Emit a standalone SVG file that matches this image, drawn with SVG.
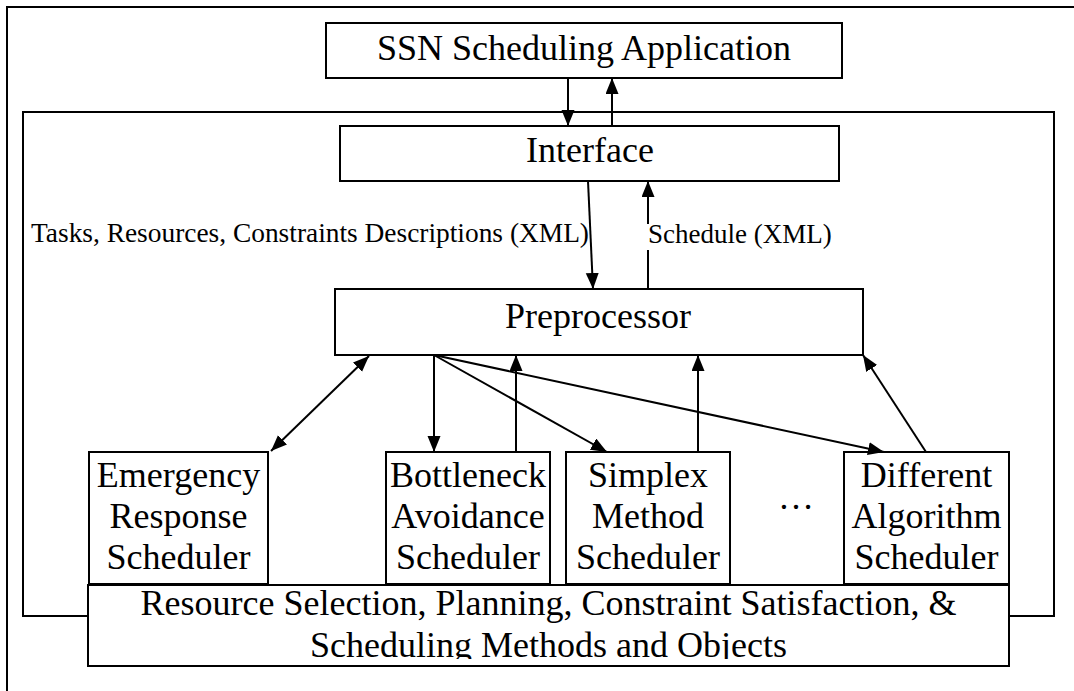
<svg xmlns="http://www.w3.org/2000/svg" width="1074" height="691" viewBox="0 0 1074 691">
<style>
.box{fill:#fff;stroke:#000;stroke-width:2}
.frame{fill:none;stroke:#000;stroke-width:2}
.t{font-family:"Liberation Serif","Times New Roman",serif;font-size:36px;fill:#000;text-anchor:middle}
.lbl{font-family:"Liberation Serif","Times New Roman",serif;font-size:27px;fill:#000}
.c{fill:none;stroke:#000;stroke-width:2}
.a{marker-end:url(#ah)}
</style>
<defs>
<marker id="ah" markerUnits="userSpaceOnUse" markerWidth="17" markerHeight="14" refX="16" refY="6.5" orient="auto-start-reverse" viewBox="0 0 17 14">
<path d="M0,0 L16,6.5 L0,13 z" fill="#000"/>
</marker>
<clipPath id="rclip"><rect x="88" y="585" width="921" height="74"/></clipPath>
</defs>
<rect width="1074" height="691" fill="#fff"/>
<g id="outer-border">
<path class="frame" d="M7,700 L7,7 L1080,7"/>
</g>
<g id="system-frame">
<rect class="frame" x="23" y="112" width="1031" height="504"/>
</g>
<g id="ssn-app">
<rect class="box" x="326" y="23" width="516" height="55"/>
<text class="t" x="584" y="60">SSN Scheduling Application</text>
</g>
<g id="interface">
<rect class="box" x="340" y="126" width="499" height="55"/>
<text class="t" x="590" y="162">Interface</text>
</g>
<g id="preprocessor">
<rect class="box" x="335" y="289" width="528" height="66"/>
<text class="t" x="598" y="328">Preprocessor</text>
</g>
<g id="emergency">
<rect class="box" x="89" y="452" width="179" height="132"/>
<text class="t" x="178.5" y="487">Emergency</text>
<text class="t" x="178.5" y="528">Response</text>
<text class="t" x="178.5" y="569">Scheduler</text>
</g>
<g id="bottleneck">
<rect class="box" x="386" y="452" width="164" height="132"/>
<text class="t" x="468" y="487">Bottleneck</text>
<text class="t" x="468" y="528">Avoidance</text>
<text class="t" x="468" y="569">Scheduler</text>
</g>
<g id="simplex">
<rect class="box" x="566" y="452" width="164" height="132"/>
<text class="t" x="648" y="487">Simplex</text>
<text class="t" x="648" y="528">Method</text>
<text class="t" x="648" y="569">Scheduler</text>
</g>
<g id="ellipsis">
<text class="t" x="796" y="509">…</text>
</g>
<g id="different">
<rect class="box" x="844" y="452" width="165" height="132"/>
<text class="t" x="926.5" y="487">Different</text>
<text class="t" x="926.5" y="528">Algorithm</text>
<text class="t" x="926.5" y="569">Scheduler</text>
</g>
<g id="resource">
<rect class="box" x="88" y="585" width="921" height="81"/>
<g clip-path="url(#rclip)">
<text class="t" x="548.5" y="615">Resource Selection, Planning, Constraint Satisfaction, &amp;</text>
<text class="t" x="548.5" y="657">Scheduling Methods and Objects</text>
</g>
</g>
<g id="connectors">
<line class="c a" x1="568" y1="78" x2="568" y2="126"/>
<line class="c a" x1="612" y1="126" x2="612" y2="78"/>
<line class="c a" x1="588" y1="181" x2="593" y2="289"/>
<line class="c a" x1="648" y1="289" x2="648" y2="181"/>
<line class="c a" x1="271" y1="451" x2="369" y2="356" marker-start="url(#ah)"/>
<line class="c a" x1="434" y1="355" x2="434" y2="452"/>
<line class="c a" x1="516" y1="452" x2="516" y2="355"/>
<line class="c a" x1="434" y1="355" x2="607" y2="452"/>
<line class="c a" x1="698" y1="452" x2="698" y2="355"/>
<line class="c a" x1="434" y1="355" x2="884" y2="452"/>
<line class="c a" x1="926" y1="452" x2="863" y2="355"/>
</g>
<g id="labels">
<text class="lbl" x="31" y="242" style="font-size:27.4px">Tasks, Resources, Constraints Descriptions (XML)</text>
<rect x="646" y="224" width="188" height="26" fill="#fff"/>
<text class="lbl" x="648" y="243">Schedule (XML)</text>
</g>
</svg>
